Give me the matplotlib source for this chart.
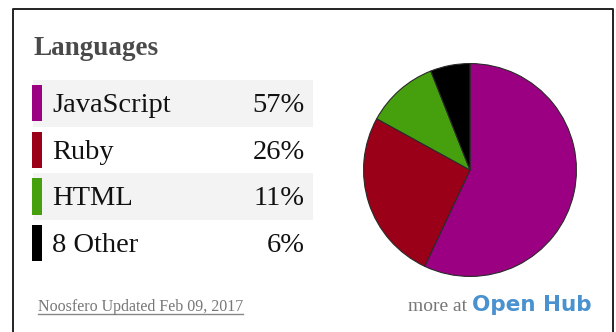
import matplotlib
matplotlib.use("Agg")
import matplotlib.pyplot as plt
from matplotlib.patches import Rectangle

languages = ["JavaScript", "Ruby", "HTML", "8 Other"]
shares = [57, 26, 11, 6]
colors = ["#9C0082", "#9A0018", "#46A00E", "#000000"]
footer_left = "Noosfero Updated Feb 09, 2017"

W, H = 616, 332
fig = plt.figure(figsize=(W / 100, H / 100), dpi=100)
fig.patch.set_facecolor("white")

# full-figure axes in pixel units for the list / frame
ax = fig.add_axes([0, 0, 1, 1])
ax.set_xlim(0, W)
ax.set_ylim(H, 0)
ax.axis("off")

# frame (open at the bottom)
ax.plot([13, 13, 613, 613], [H, 9, 9, H], color="#222222", lw=1.4)

ax.text(33, 55, "Languages", fontsize=19.5, fontweight="bold", color="#4a4a4a",
        family="Liberation Serif", va="baseline")

row_top, row_h = 80, 46.7
for i, (name, pct, c) in enumerate(zip(languages, shares, colors)):
    y0 = row_top + i * row_h
    if i % 2 == 0:
        ax.add_patch(Rectangle((33, y0), 280, row_h, color="#f3f3f3", lw=0))
    ax.add_patch(Rectangle((32, y0 + 5), 9.5, row_h - 10.5, color=c, lw=0))
    ax.text(52, y0 + 32, name, fontsize=20.5, color="#111111",
            family="Liberation Serif", va="baseline")
    ax.text(305, y0 + 32, f"{pct}%", fontsize=20.5, color="#111111",
            family="Liberation Serif", va="baseline", ha="right")

ft = ax.text(38, 311, footer_left, fontsize=11.5, color="#777777",
             family="Liberation Serif", va="baseline")
ax.text(467, 311, "more at", fontsize=14, color="#777777",
        family="Liberation Serif", va="baseline", ha="right")
ax.text(472, 311, "Open Hub", fontsize=15.5, color="#4a92cf",
        family="DejaVu Sans", fontweight="bold", va="baseline")

# underline of the footer link
fig.canvas.draw()
bb = ft.get_window_extent().transformed(ax.transData.inverted())
ax.plot([bb.x0, bb.x1], [314, 314], color="#888888", lw=1)

# pie
cx, cy, r = 470, 170, 107.5
pax = fig.add_axes([(cx - r) / W, (H - cy - r) / H, 2 * r / W, 2 * r / H])
pax.pie(shares, colors=colors, startangle=90, counterclock=False,
        wedgeprops=dict(edgecolor="#2a2a2a", linewidth=0.8))
pax.set_xlim(-1.01, 1.01)
pax.set_ylim(-1.01, 1.01)
pax.set_aspect("equal")

fig.savefig("out.png", dpi=100)
